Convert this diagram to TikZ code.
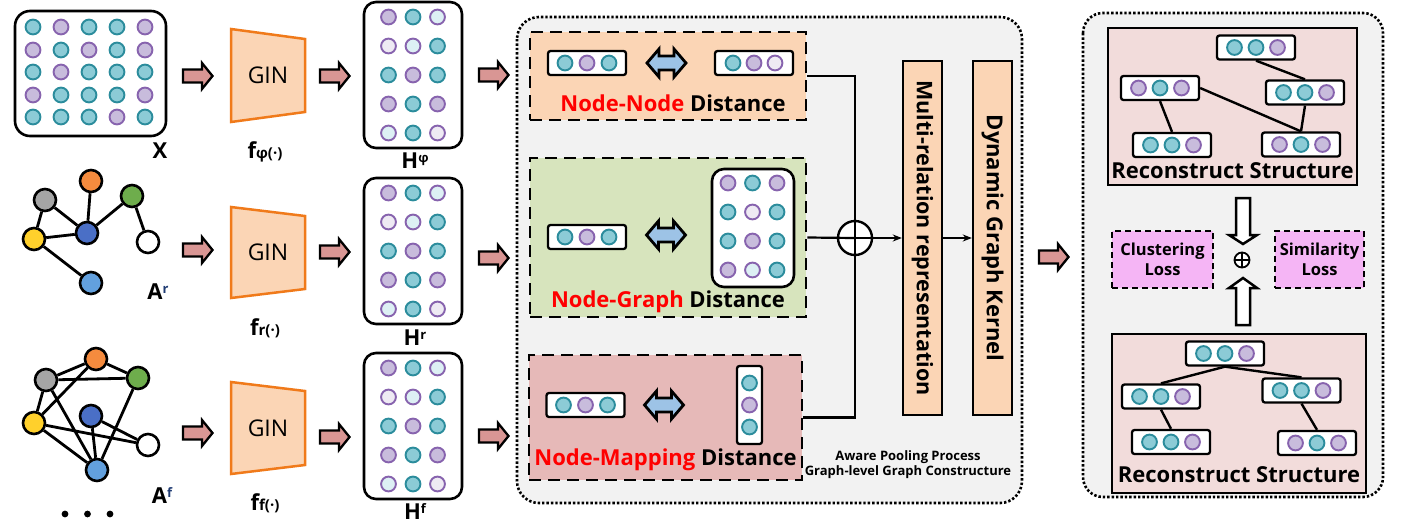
\documentclass[tikz,border=0pt]{standalone}
\usepackage{fontspec}
\setmainfont{Open Sans}
\usetikzlibrary{arrows.meta}
\definecolor{tealF}{HTML}{8CCBD6}
\definecolor{tealD}{HTML}{2B8C9C}
\definecolor{purF}{HTML}{C8BCDC}
\definecolor{purD}{HTML}{8763AE}
\definecolor{lbF}{HTML}{DDF0F4}
\definecolor{lpF}{HTML}{EEEAF3}
\definecolor{peach}{HTML}{FBD5B5}
\definecolor{ginD}{HTML}{F07A1A}
\definecolor{greenbg}{HTML}{D7E4BD}
\definecolor{pinkbg}{HTML}{E6B9B8}
\definecolor{panel}{HTML}{F2F2F2}
\definecolor{recon}{HTML}{F2DCDB}
\definecolor{lossbg}{HTML}{F5B5F5}
\definecolor{arrowpink}{HTML}{D99694}
\definecolor{darr}{HTML}{9DC3E6}
\definecolor{gGray}{HTML}{A5A5A5}
\definecolor{gOrange}{HTML}{F58B3E}
\definecolor{gGreen}{HTML}{6EAD4C}
\definecolor{gYellow}{HTML}{FFD02C}
\definecolor{gDark}{HTML}{4A6FC6}
\definecolor{gLight}{HTML}{62A0DE}
\definecolor{supc}{HTML}{1F3B73}
\tikzset{
  tc/.style={fill=tealF,draw=tealD,line width=1.9},
  pc/.style={fill=purF,draw=purD,line width=1.9},
  lb/.style={fill=lbF,draw=purD,line width=1.9},
  lp/.style={fill=lpF,draw=purD,line width=1.9},
  vbox/.style={draw=black,fill=white,line width=2.3,rounded corners=2.5,minimum width=78,minimum height=24,inner sep=0},
  mbox/.style={draw=black,fill=white,line width=2.6,rounded corners=12,inner sep=0},
  parr/.style={draw=black,fill=arrowpink,line width=2.3,line join=miter},
  darrow/.style={draw=black,fill=darr,line width=2.8,line join=miter},
  harr/.style={draw=black,fill=white,line width=2.5,line join=miter},
  gnode/.style={circle,draw=black,line width=2.6,minimum size=22,inner sep=0},
  gedge/.style={line width=2.8},
  dbox/.style={draw=black,line width=2.9,dash pattern=on 12pt off 7pt,inner sep=0},
  lbox/.style={draw=black,fill=lossbg,line width=2.4,dash pattern=on 6pt off 4pt,inner sep=0,align=center,font=\bfseries\fontsize{16.5}{20}\selectfont},
  rbox/.style={draw=black,fill=recon,line width=2.6,inner sep=0},
  conn/.style={line width=2.2},
  tbox/.style={draw=black,fill=peach,line width=2.4,inner sep=0,minimum width=39,minimum height=354},
  bigtxt/.style={font=\bfseries\fontsize{22}{22}\selectfont},
}
\newcommand\mydot[3]{\path[#1] (#2,#3) circle[radius=7.4];}
\newcommand\vrow[7]{\node[vbox] (#1) at (#2,#3) {};%
  \mydot{#4}{#2-#7}{#3}\mydot{#5}{#2}{#3}\mydot{#6}{#2+#7}{#3}}
\newcommand\pinkarrow[2]{\draw[parr] (#1,#2-6.5) -- ++(19,0) -- ++(0,-6.5) -- ++(10.5,13) -- ++(-10.5,13) -- ++(0,-6.5) -- ++(-19,0) -- cycle;}
\newcommand\dblarrow[2]{\draw[darrow] (#1-19.5,#2) -- (#1-7.5,#2-14) -- (#1-7.5,#2-7) -- (#1+7.5,#2-7) -- (#1+7.5,#2-14) -- (#1+19.5,#2) -- (#1+7.5,#2+14) -- (#1+7.5,#2+7) -- (#1-7.5,#2+7) -- (#1-7.5,#2+14) -- cycle;}
\newcommand\hmat[3]{\node[mbox,minimum width=98,minimum height=146] (#1) at (#2,#3+73) {};%
  \mydot{pc}{#2-24.5}{#3+15}\mydot{tc}{#2}{#3+15}\mydot{lb}{#2+24.5}{#3+15}%
  \mydot{lp}{#2-24.5}{#3+44}\mydot{lb}{#2}{#3+44}\mydot{tc}{#2+24.5}{#3+44}%
  \mydot{tc}{#2-24.5}{#3+73}\mydot{pc}{#2}{#3+73}\mydot{tc}{#2+24.5}{#3+73}%
  \mydot{pc}{#2-24.5}{#3+102}\mydot{tc}{#2}{#3+102}\mydot{pc}{#2+24.5}{#3+102}%
  \mydot{lb}{#2-24.5}{#3+131}\mydot{tc}{#2}{#3+131}\mydot{lp}{#2+24.5}{#3+131}}
\begin{document}
\begin{tikzpicture}[x=1pt,y=-1pt]
\useasboundingbox (0,0) rectangle (1405,523);
% ---------- X matrix ----------
\node[mbox,rounded corners=15,minimum width=151,minimum height=125] (xm) at (90.5,73.5) {};
\foreach \c [count=\i] in {tc,pc,tc,tc,pc}{\mydot{\c}{5+28*\i}{27}}
\foreach \c [count=\i] in {pc,tc,pc,tc,pc}{\mydot{\c}{5+28*\i}{50}}
\foreach \c [count=\i] in {tc,pc,tc,tc,tc}{\mydot{\c}{5+28*\i}{72}}
\foreach \c [count=\i] in {pc,tc,tc,tc,pc}{\mydot{\c}{5+28*\i}{95}}
\foreach \c [count=\i] in {tc,tc,tc,pc,tc}{\mydot{\c}{5+28*\i}{117}}
\node[bigtxt] (lx) at (160,151) {X};
% ---------- graph A^r ----------
\node[gnode,fill=gGray] (r1) at (45,200) {};
\node[gnode,fill=gOrange] (r2) at (91,181) {};
\node[gnode,fill=gGreen] (r3) at (132,196) {};
\node[gnode,fill=gYellow] (r4) at (34,239) {};
\node[gnode,fill=gDark] (r5) at (87,233) {};
\node[gnode,fill=white] (r6) at (148,242) {};
\node[gnode,fill=gLight] (r7) at (91,283) {};
\draw[gedge] (r1) -- (r4) (r1) -- (r5) (r4) -- (r5) (r2) -- (r5) (r3) -- (r5) (r3) -- (r6) (r4) -- (r7);
\node[bigtxt] (lar) at (158,292) {A\raisebox{6pt}{\fontsize{13}{13}\selectfont\color{supc}r}};
% ---------- graph A^f ----------
\node[gnode,fill=gOrange] (f2) at (96,359) {};
\node[gnode,fill=gGray] (f1) at (46,380) {};
\node[gnode,fill=gGreen] (f3) at (138,378) {};
\node[gnode,fill=gYellow] (f4) at (34,423) {};
\node[gnode,fill=gDark] (f5) at (91,416) {};
\node[gnode,fill=white] (f6) at (148,445) {};
\node[gnode,fill=gLight] (f7) at (97,470) {};
\draw[gedge] (f1) -- (f2) (f2) -- (f3) (f1) -- (f3) (f1) -- (f4) (f4) -- (f2) (f1) -- (f7) (f4) -- (f6) (f4) -- (f7) (f5) -- (f7) (f5) -- (f6) (f3) -- (f7);
\node[bigtxt] (laf) at (162,496) {A\raisebox{6pt}{\fontsize{13}{13}\selectfont\color{supc}f}};
\fill (65,514) circle[radius=3.4] (87.5,514) circle[radius=3.4] (110,514) circle[radius=3.4];
% ---------- block arrows ----------
\pinkarrow{183}{76}\pinkarrow{183}{250}\pinkarrow{183}{433}
\pinkarrow{320}{76}\pinkarrow{320}{252}\pinkarrow{320}{437}
\pinkarrow{479}{75}\pinkarrow{479}{258}\pinkarrow{479}{436}
\pinkarrow{1039}{257}
% ---------- GIN ----------
\draw[fill=peach,draw=ginD,line width=2.5] (231,29) -- (305,39) -- (305,112) -- (231,122) -- cycle;
\node[font=\fontsize{23}{23}\selectfont] (g1) at (268,75) {GIN};
\draw[fill=peach,draw=ginD,line width=2.5] (231,207) -- (305,216) -- (305,289) -- (231,298) -- cycle;
\node[font=\fontsize{23}{23}\selectfont] (g2) at (268,252) {GIN};
\draw[fill=peach,draw=ginD,line width=2.5] (231,382) -- (305,391) -- (305,465) -- (231,474) -- cycle;
\node[font=\fontsize{23}{23}\selectfont] (g3) at (268,428) {GIN};
\node[font=\bfseries] (lf1) at (265,152) {\fontsize{22}{22}\selectfont f\fontsize{15}{15}\selectfont φ(·)};
\node[font=\bfseries] (lf2) at (265,328) {\fontsize{22}{22}\selectfont f\fontsize{15}{15}\selectfont r(·)};
\node[font=\bfseries] (lf3) at (265,503) {\fontsize{22}{22}\selectfont f\fontsize{15}{15}\selectfont f(·)};
% ---------- H matrices ----------
\hmat{h1}{413}{2}
\hmat{h2}{413}{178}
\hmat{h3}{413}{353}
\node[bigtxt] (lh1) at (415,161) {H\raisebox{6pt}{\fontsize{13}{13}\selectfont φ}};
\node[bigtxt] (lh2) at (415,338) {H\raisebox{6pt}{\fontsize{13}{13}\selectfont r}};
\node[bigtxt] (lh3) at (415,512) {H\raisebox{6pt}{\fontsize{13}{13}\selectfont f}};
% ---------- middle panel ----------
\draw[fill=panel,line width=2.6,dash pattern=on 2.4pt off 2pt,rounded corners=22] (517,17) rectangle (1022,503);
\node[dbox,fill=peach,minimum width=276,minimum height=88] (nn) at (668,76) {};
\node[dbox,fill=greenbg,minimum width=276,minimum height=159] (ng) at (668,237.5) {};
\node[dbox,fill=pinkbg,minimum width=273,minimum height=125] (nm) at (665.5,417.5) {};
% node-node
\vrow{nnv1}{587}{63}{tc}{pc}{tc}{22}
\vrow{nnv2}{754}{63}{tc}{pc}{lp}{21}
\dblarrow{666.5}{63}
\node[bigtxt] (nnl) at (673,103) {\textcolor{red}{Node-Node} Distance};
% node-graph
\vrow{ngv}{587}{237}{tc}{pc}{tc}{22}
\dblarrow{666}{235}
\node[mbox,minimum width=82,minimum height=118] (ngm) at (753,228) {};
\foreach \a/\b/\c [count=\i] in {pc/tc/pc,tc/lp/tc,tc/pc/tc,pc/lb/tc}{
  \mydot{\a}{728}{154+29*\i}\mydot{\b}{752.5}{154+29*\i}\mydot{\c}{777}{154+29*\i}}
\node[bigtxt] (ngl) at (668,302) {\textcolor{red}{Node-Graph} Distance};
% node-mapping
\vrow{nmv}{585.5}{405}{tc}{pc}{tc}{22}
\dblarrow{664}{405}
\node[vbox,minimum width=25,minimum height=78] (nmc) at (749.5,405) {};
\mydot{tc}{749.5}{383}\mydot{pc}{749.5}{405}\mydot{tc}{749.5}{427}
\node[bigtxt] (nml) at (665.5,460) {\textcolor{red}{Node-Mapping} Distance};
% aggregation
\node[circle,draw=black,fill=white,line width=2.4,minimum size=34,inner sep=0] (oplus) at (855,238) {};
\node[tbox] (mr) at (922.5,238) {};
\node[tbox] (dgk) at (992.5,238) {};
\node[rotate=-90,font=\bfseries\fontsize{21.5}{22}\selectfont] (mrl) at (922.5,238) {Multi-relation representation};
\node[rotate=-90,font=\bfseries\fontsize{22}{22}\selectfont] (dgkl) at (992.5,238) {Dynamic Graph Kernel};
\draw[conn] (nn.east) -| (oplus.center) |- (nm.east);
\draw[conn] (ng.east) -- (oplus.center);
\draw[conn,-{Stealth[length=9pt,width=7pt]}] (oplus.center) -- (mr.west);
\draw[conn,-{Stealth[length=9pt,width=7pt]}] (mr.east) -- (dgk.west);
\node[font=\bfseries\fontsize{13}{15}\selectfont,align=center] (apl) at (908,464.5) {Aware Pooling Process\\Graph-level Graph Constructure};
% ---------- right panel ----------
\draw[fill=panel,line width=2.6,dash pattern=on 2.4pt off 2pt,rounded corners=20] (1083,13) rectangle (1383,497);
\node[rbox,minimum width=249,minimum height=157] (rs1) at (1232.5,106.5) {};
\vrow{ra}{1256}{47.5}{tc}{tc}{pc}{21.5}
\vrow{rb}{1160}{88}{pc}{tc}{pc}{21.5}
\vrow{rc}{1305}{92.5}{tc}{tc}{pc}{21.5}
\vrow{rd}{1172}{145}{tc}{tc}{pc}{21.5}
\vrow{re}{1301}{144.5}{pc}{tc}{pc}{21.5}
\draw[gedge,line width=2.4] (ra.south) -- (rc.north) (rb.east) -- (re.north) (rc.south) -- (re.north) (rb.south) -- (rd.north);
\node[bigtxt] (rs1l) at (1232.5,171) {Reconstruct Structure};
\node[rbox,minimum width=254,minimum height=159] (rs2) at (1239,413.5) {};
\vrow{rf}{1225}{353.5}{tc}{tc}{pc}{21.5}
\vrow{rg}{1161}{396.5}{tc}{tc}{pc}{21.5}
\vrow{rh}{1301.5}{390.5}{tc}{tc}{pc}{21.5}
\vrow{ri}{1171}{442}{tc}{tc}{pc}{21.5}
\vrow{rj}{1317}{443}{pc}{tc}{pc}{21.5}
\draw[gedge,line width=2.4] (rf.south) -- (rg.north) (rf.south) -- (rh.north) (rg.south) -- (ri.north) (rh.south) -- (rj.north);
\node[bigtxt] (rs2l) at (1239,475) {Reconstruct Structure};
\node[lbox,minimum width=101,minimum height=57] (cl) at (1162.5,259.5) {Clustering\\Loss};
\node[lbox,minimum width=89,minimum height=57] (sl) at (1319.5,259.5) {Similarity\\Loss};
\node[circle,draw=black,fill=white,line width=1.8,minimum size=15,inner sep=0] (op2) at (1242,260) {};
\draw[line width=1.4] (op2.north) -- (op2.south) (op2.west) -- (op2.east);
\draw[harr] (1236,198) -- (1250,198) -- (1250,235) -- (1257,235) -- (1243,244) -- (1229,235) -- (1236,235) -- cycle;
\draw[harr] (1236,325) -- (1250,325) -- (1250,288) -- (1257,288) -- (1243,278) -- (1229,288) -- (1236,288) -- cycle;
\end{tikzpicture}
\end{document}
